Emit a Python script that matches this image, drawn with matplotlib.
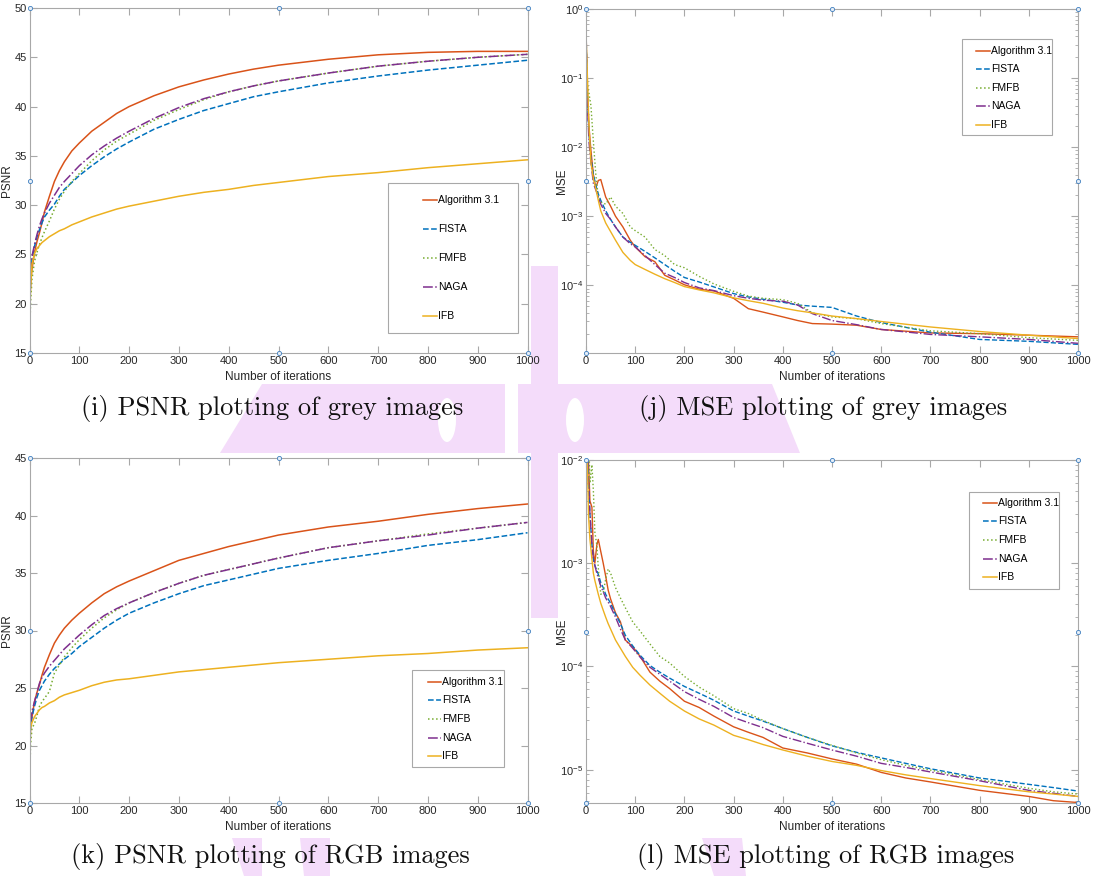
import matplotlib
matplotlib.use("Agg")
import matplotlib.pyplot as plt
import matplotlib.transforms as mtransforms
from matplotlib.patches import Polygon, Rectangle, Ellipse
from matplotlib.lines import Line2D

plt.rcParams['font.family'] = ['Liberation Sans Narrow', 'Liberation Sans', 'DejaVu Sans']
plt.rcParams['mathtext.fontset'] = 'custom'
plt.rcParams['mathtext.rm'] = 'Liberation Sans'
plt.rcParams['mathtext.it'] = 'Liberation Sans'
plt.rcParams['mathtext.default'] = 'regular'

methods = ['Algorithm 3.1', 'FISTA', 'FMFB', 'NAGA', 'IFB']
colors = ['#D95319', '#0072BD', '#77AC30', '#7E2F8E', '#EDB120']
styles = ['-', '--', ':', '-.', '-']

# PSNR curves (grey / RGB)
it_psnr = [0, 1, 2, 5, 10, 15, 20, 25, 30, 40, 50, 60, 70, 85, 100, 125, 150, 175, 200, 250,
           300, 350, 400, 450, 500, 600, 700, 800, 900, 1000]
psnr_grey = {
    'Algorithm 3.1': [15, 20, 22, 23.5, 25.2, 26.3, 27.2, 28.2, 29.3, 30.9, 32.4, 33.5, 34.4, 35.5, 36.3,
                      37.5, 38.4, 39.3, 40.0, 41.1, 42.0, 42.7, 43.3, 43.8, 44.2, 44.8, 45.25, 45.5, 45.6, 45.6],
    'FISTA': [15, 20, 22.5, 24.5, 25.8, 26.8, 27.5, 28.2, 28.8, 29.5, 30.1, 30.9, 31.6, 32.3, 33.0,
              34.0, 34.9, 35.7, 36.4, 37.7, 38.7, 39.6, 40.3, 41.0, 41.5, 42.4, 43.1, 43.7, 44.2, 44.7],
    'FMFB': [15, 18, 20, 22.5, 24.3, 25.2, 26.0, 26.7, 27.3, 28.4, 29.6, 30.6, 31.4, 32.4, 33.2,
             34.5, 35.6, 36.5, 37.2, 38.6, 39.7, 40.7, 41.5, 42.1, 42.6, 43.4, 44.1, 44.6, 45.0, 45.3],
    'NAGA': [15, 20, 22.5, 24.8, 26.0, 27.0, 27.9, 28.6, 29.2, 30.2, 31.0, 31.8, 32.4, 33.2, 34.0,
             35.1, 36.0, 36.8, 37.5, 38.8, 39.9, 40.8, 41.5, 42.1, 42.6, 43.4, 44.1, 44.6, 45.0, 45.3],
    'IFB': [15, 19, 21.5, 24.0, 25.1, 25.6, 25.9, 26.2, 26.4, 26.8, 27.1, 27.4, 27.6, 28.0, 28.3,
            28.8, 29.2, 29.6, 29.9, 30.4, 30.9, 31.3, 31.6, 32.0, 32.3, 32.9, 33.3, 33.8, 34.2, 34.6],
}
psnr_rgb = {
    'Algorithm 3.1': [15, 20, 21.8, 22.5, 23.8, 24.6, 25.3, 26.1, 26.8, 27.9, 28.9, 29.6, 30.2, 30.9, 31.5,
                      32.4, 33.2, 33.8, 34.3, 35.2, 36.1, 36.7, 37.3, 37.8, 38.3, 39.0, 39.5, 40.1, 40.6, 41.0],
    'FISTA': [15, 20, 21.5, 22.5, 23.4, 24.2, 24.8, 25.2, 25.6, 26.2, 26.7, 27.1, 27.5, 28.0, 28.6,
              29.4, 30.2, 30.9, 31.5, 32.4, 33.2, 33.9, 34.4, 34.9, 35.4, 36.1, 36.7, 37.4, 37.9, 38.5],
    'FMFB': [15, 18, 20, 21.5, 21.9, 22.6, 23.4, 23.8, 24.1, 24.7, 26.3, 27.0, 27.7, 28.5, 29.2,
             30.2, 31.1, 31.8, 32.4, 33.3, 34.1, 34.8, 35.3, 35.8, 36.3, 37.2, 37.8, 38.4, 38.9, 39.4],
    'NAGA': [15, 20, 22, 23.0, 23.8, 24.6, 25.4, 25.9, 26.3, 26.9, 27.4, 27.9, 28.4, 29.0, 29.6,
             30.5, 31.3, 31.9, 32.4, 33.3, 34.1, 34.8, 35.3, 35.8, 36.3, 37.2, 37.8, 38.3, 38.9, 39.4],
    'IFB': [15, 19, 21.5, 22.0, 22.5, 22.8, 23.1, 23.3, 23.4, 23.7, 23.9, 24.2, 24.4, 24.6, 24.8,
            25.2, 25.5, 25.7, 25.8, 26.1, 26.4, 26.6, 26.8, 27.0, 27.2, 27.5, 27.8, 28.0, 28.3, 28.5],
}

# MSE curves, grey images
it_mse_grey = [0, 3, 6, 10, 15, 20, 25, 30, 40, 50, 60, 75, 90, 100, 120, 140, 160, 180, 200, 230, 260,
               300, 330, 360, 400, 430, 460, 500, 550, 600, 700, 800, 900, 1000]
mse_grey = {
    'Algorithm 3.1': [0.4, 0.06, 0.02, 0.009, 0.004, 0.0026, 0.0033, 0.0034, 0.0019, 0.0014, 0.0010, 0.0007, 0.00045,
                      0.00036, 0.00026, 0.00022, 0.00014, 0.00012, 0.000102, 8.8e-5, 8.3e-5, 6.5e-5, 4.6e-5, 4.1e-5,
                      3.5e-5, 3.1e-5, 2.8e-5, 2.75e-5, 2.65e-5, 2.3e-5, 2.05e-5, 2.0e-5, 1.9e-5, 1.8e-5],
    'FISTA': [0.5, 0.05, 0.015, 0.007, 0.004, 0.0028, 0.0021, 0.0017, 0.0012, 0.0009, 0.0007, 0.0005, 0.00042,
              0.00038, 0.00031, 0.00025, 0.0002, 0.00016, 0.00013, 0.000112, 9.5e-5, 7.6e-5, 6.8e-5, 6.3e-5,
              5.7e-5, 5.2e-5, 5.0e-5, 4.8e-5, 3.6e-5, 2.9e-5, 2.1e-5, 1.65e-5, 1.55e-5, 1.4e-5],
    'FMFB': [0.3, 0.08, 0.06, 0.04, 0.012, 0.004, 0.0019, 0.0016, 0.0015, 0.0019, 0.0014, 0.0011, 0.0007,
             0.00062, 0.0005, 0.00033, 0.00027, 0.0002, 0.00018, 0.000135, 0.000105, 8.2e-5, 7e-5, 6.5e-5,
             6.2e-5, 5.5e-5, 4.0e-5, 3.5e-5, 3.3e-5, 2.8e-5, 2.2e-5, 2.0e-5, 1.75e-5, 1.6e-5],
    'NAGA': [0.6, 0.04, 0.012, 0.006, 0.003, 0.0024, 0.0019, 0.0015, 0.0011, 0.0009, 0.0007, 0.0005, 0.0004,
             0.00036, 0.00027, 0.0002, 0.00015, 0.00013, 0.00011, 9.2e-5, 8.4e-5, 7.1e-5, 6.5e-5, 6.1e-5,
             5.9e-5, 5.2e-5, 3.9e-5, 3.1e-5, 2.7e-5, 2.3e-5, 1.95e-5, 1.8e-5, 1.65e-5, 1.45e-5],
    'IFB': [0.45, 0.1, 0.02, 0.006, 0.0035, 0.0025, 0.0017, 0.0012, 0.0008, 0.0006, 0.00045, 0.0003, 0.00023,
            0.0002, 0.00017, 0.000145, 0.000125, 0.00011, 9.6e-5, 8.6e-5, 7.8e-5, 6.6e-5, 6e-5, 5.5e-5,
            4.7e-5, 4.3e-5, 4.0e-5, 3.6e-5, 3.3e-5, 3.0e-5, 2.5e-5, 2.15e-5, 1.9e-5, 1.7e-5],
}

# MSE curves, RGB images
it_mse_rgb = [0, 5, 8, 12, 15, 18, 22, 25, 30, 35, 40, 45, 50, 60, 70, 80, 95, 110, 130, 150, 170, 200, 230,
              260, 300, 330, 360, 400, 450, 500, 550, 600, 650, 700, 800, 900, 950, 1000]
mse_rgb = {
    'Algorithm 3.1': [0.05, 0.01, 0.004, 0.0035, 0.0013, 0.001, 0.0015, 0.0017, 0.0013, 0.001, 0.00075, 0.00055,
                      0.00045, 0.00033, 0.00027, 0.00018, 0.000155, 0.000125, 8.8e-5, 7.2e-5, 6.1e-5, 4.6e-5, 4.0e-5,
                      3.3e-5, 2.6e-5, 2.3e-5, 2.05e-5, 1.62e-5, 1.45e-5, 1.27e-5, 1.13e-5, 9.4e-6, 8.3e-6, 7.6e-6,
                      6.3e-6, 5.5e-6, 5.0e-6, 4.8e-6],
    'FISTA': [0.05, 0.006, 0.003, 0.0015, 0.0011, 0.00095, 0.00085, 0.00078, 0.00065, 0.00058, 0.0005, 0.00045,
              0.00041, 0.00032, 0.00026, 0.0002, 0.000158, 0.000128, 0.000102, 8.8e-5, 7.7e-5, 6.4e-5, 5.5e-5,
              4.7e-5, 3.7e-5, 3.3e-5, 2.95e-5, 2.5e-5, 2.05e-5, 1.7e-5, 1.47e-5, 1.3e-5, 1.15e-5, 1.02e-5,
              8.3e-6, 7.2e-6, 6.7e-6, 6.2e-6],
    'FMFB': [0.05, 0.02, 0.006, 0.009, 0.005, 0.002, 0.0015, 0.0009, 0.0005, 0.00052, 0.0007, 0.00088,
             0.0008, 0.00058, 0.00046, 0.00037, 0.00027, 0.00022, 0.000165, 0.000125, 0.000108, 8e-5, 6.3e-5,
             5.2e-5, 3.9e-5, 3.5e-5, 3.0e-5, 2.5e-5, 2.05e-5, 1.72e-5, 1.45e-5, 1.25e-5, 1.1e-5, 9.9e-6,
             8.0e-6, 6.6e-6, 6.1e-6, 5.8e-6],
    'NAGA': [0.05, 0.006, 0.003, 0.0015, 0.0011, 0.00095, 0.0008, 0.00072, 0.0006, 0.00053, 0.00046, 0.00042,
             0.00038, 0.0003, 0.00023, 0.00018, 0.00015, 0.000123, 9.8e-5, 8.4e-5, 7.2e-5, 5.7e-5, 4.8e-5,
             4.1e-5, 3.2e-5, 2.85e-5, 2.55e-5, 2.1e-5, 1.8e-5, 1.55e-5, 1.35e-5, 1.15e-5, 1.05e-5, 9.5e-6,
             7.8e-6, 6.3e-6, 5.9e-6, 5.5e-6],
    'IFB': [0.05, 0.003, 0.0017, 0.0011, 0.0008, 0.00068, 0.00057, 0.0005, 0.00041, 0.00035, 0.0003, 0.00026,
            0.00023, 0.00018, 0.00015, 0.000125, 9.8e-5, 8.2e-5, 6.6e-5, 5.5e-5, 4.6e-5, 3.7e-5, 3.1e-5,
            2.7e-5, 2.15e-5, 1.95e-5, 1.75e-5, 1.55e-5, 1.35e-5, 1.2e-5, 1.1e-5, 9.8e-6, 8.9e-6, 8.2e-6,
            7.0e-6, 6.1e-6, 5.8e-6, 5.5e-6],
}

captions = ['(i) PSNR plotting of grey images', '(j) MSE plotting of grey images',
            '(k) PSNR plotting of RGB images', '(l) MSE plotting of RGB images']

W, H = 1094, 876
fig = plt.figure(figsize=(W / 100, H / 100), dpi=100)
pix = mtransforms.Affine2D().scale(1 / W, -1 / H).translate(0, 1) + fig.transFigure

# pink watermark behind everything
pink = '#f4dcfa'
wm = [
    [(262, 384), (505, 384), (505, 453), (220, 453)],
    [(518, 384), (772, 384), (800, 453), (518, 453)],
    [(531, 266), (558, 266), (558, 618), (531, 618)],
    [(232, 838), (262, 838), (262, 876), (244, 876)],
    [(300, 838), (330, 838), (330, 876), (304, 876)],
    [(702, 838), (742, 838), (746, 876), (714, 876)],
]
for pts in wm:
    fig.patches.append(Polygon(pts, closed=True, transform=pix, facecolor=pink, edgecolor='none', zorder=-5))
for cx, cy in [(447, 420), (575, 420)]:
    fig.patches.append(Ellipse((cx, cy), 18, 44, transform=pix, facecolor='white', edgecolor='none', zorder=-4))

# axes boxes in pixels: left, top, right, bottom
boxes = [(29.5, 8, 527.5, 353), (586, 9, 1078, 353), (29.5, 458, 527.5, 803), (586, 460, 1078, 803)]
axes = []
for l, t, r, b in boxes:
    ax = fig.add_axes([l / W, 1 - b / H, (r - l) / W, (b - t) / H])
    ax.set_facecolor('white')
    axes.append(ax)

spine_c = '#a8a8a8'


def style_axes(ax, ylabel):
    for s in ax.spines.values():
        s.set_color(spine_c)
        s.set_linewidth(0.8)
    ax.tick_params(which='both', direction='in', top=True, right=True, color=spine_c,
                   labelsize=8, labelcolor='#262626', pad=2)
    ax.tick_params(which='major', length=5)
    ax.tick_params(which='minor', length=2.5)
    ax.set_xlim(0, 1000)
    ax.set_xticks(range(0, 1001, 100))
    ax.set_xlabel('Number of iterations', fontsize=8.5, color='#262626')
    ax.set_ylabel(ylabel, fontsize=8.5, color='#262626')
    ax.xaxis.set_label_coords(0.5, -0.052)
    # selection handles
    ax.plot([0, 0.5, 1, 1, 1, 0.5, 0, 0], [0, 0, 0, 0.5, 1, 1, 1, 0.5], 'o', transform=ax.transAxes,
            clip_on=False, ms=3, mfc='#e6eef7', mec='#3f7fbf', mew=0.6, zorder=10)


def draw_legend(ax, box, hx, tx, ys):
    x0, y0, x1, y1 = box
    ax.add_patch(Rectangle((x0, y0), x1 - x0, y1 - y0, transform=ax.transAxes, facecolor='white',
                           edgecolor=spine_c, lw=0.8, zorder=8))
    for m, c, ls, y in zip(methods, colors, styles, ys):
        ax.add_line(Line2D(hx, [y, y], transform=ax.transAxes, color=c, ls=ls, lw=1.1, zorder=9))
        ax.text(tx, y, m, transform=ax.transAxes, fontsize=7.5, va='center', ha='left', zorder=9)


def even(a, b):
    return [a + (b - a) * i / 4 for i in range(5)]


# (i)
ax = axes[0]
for m, c, ls in zip(methods, colors, styles):
    ax.plot(it_psnr, psnr_grey[m], color=c, ls=ls, lw=1.1)
ax.set_ylim(15, 50)
ax.set_yticks(range(15, 51, 5))
style_axes(ax, 'PSNR')
ax.yaxis.set_label_coords(-0.033, 0.5)
draw_legend(ax, (0.720, 0.058, 0.981, 0.494), [0.791, 0.818], 0.821, even(0.443, 0.108))

# (j)
ax = axes[1]
for m, c, ls in zip(methods, colors, styles):
    ax.plot(it_mse_grey, mse_grey[m], color=c, ls=ls, lw=1.0)
ax.set_yscale('log')
ax.set_ylim(1.05e-5, 1)
ax.set_yticks([1e-4, 1e-3, 1e-2, 1e-1, 1])
style_axes(ax, 'MSE')
ax.yaxis.set_label_coords(-0.036, 0.5)
draw_legend(ax, (0.764, 0.633, 0.947, 0.913), [0.793, 0.822], 0.824, even(0.879, 0.664))

# (k)
ax = axes[2]
for m, c, ls in zip(methods, colors, styles):
    ax.plot(it_psnr, psnr_rgb[m], color=c, ls=ls, lw=1.1)
ax.set_ylim(15, 45)
ax.set_yticks(range(15, 46, 5))
style_axes(ax, 'PSNR')
ax.yaxis.set_label_coords(-0.033, 0.5)
draw_legend(ax, (0.769, 0.103, 0.952, 0.385), [0.800, 0.827], 0.829, even(0.351, 0.136))

# (l)
ax = axes[3]
for m, c, ls in zip(methods, colors, styles):
    ax.plot(it_mse_rgb, mse_rgb[m], color=c, ls=ls, lw=1.0)
ax.set_yscale('log')
ax.set_ylim(4.75e-6, 1e-2)
ax.set_yticks([1e-5, 1e-4, 1e-3, 1e-2])
style_axes(ax, 'MSE')
ax.yaxis.set_label_coords(-0.036, 0.5)
draw_legend(ax, (0.778, 0.625, 0.961, 0.908), [0.807, 0.836], 0.838, even(0.875, 0.658))

# captions
cap_pos = [(272, 408), (823, 408), (270, 857), (826, 857)]
for (cx, cy), txt in zip(cap_pos, captions):
    fig.text(cx / W, 1 - cy / H, txt, family='cmr10', fontsize=19, ha='center', va='center', color='#111111')

fig.savefig('out.png', dpi=100)
